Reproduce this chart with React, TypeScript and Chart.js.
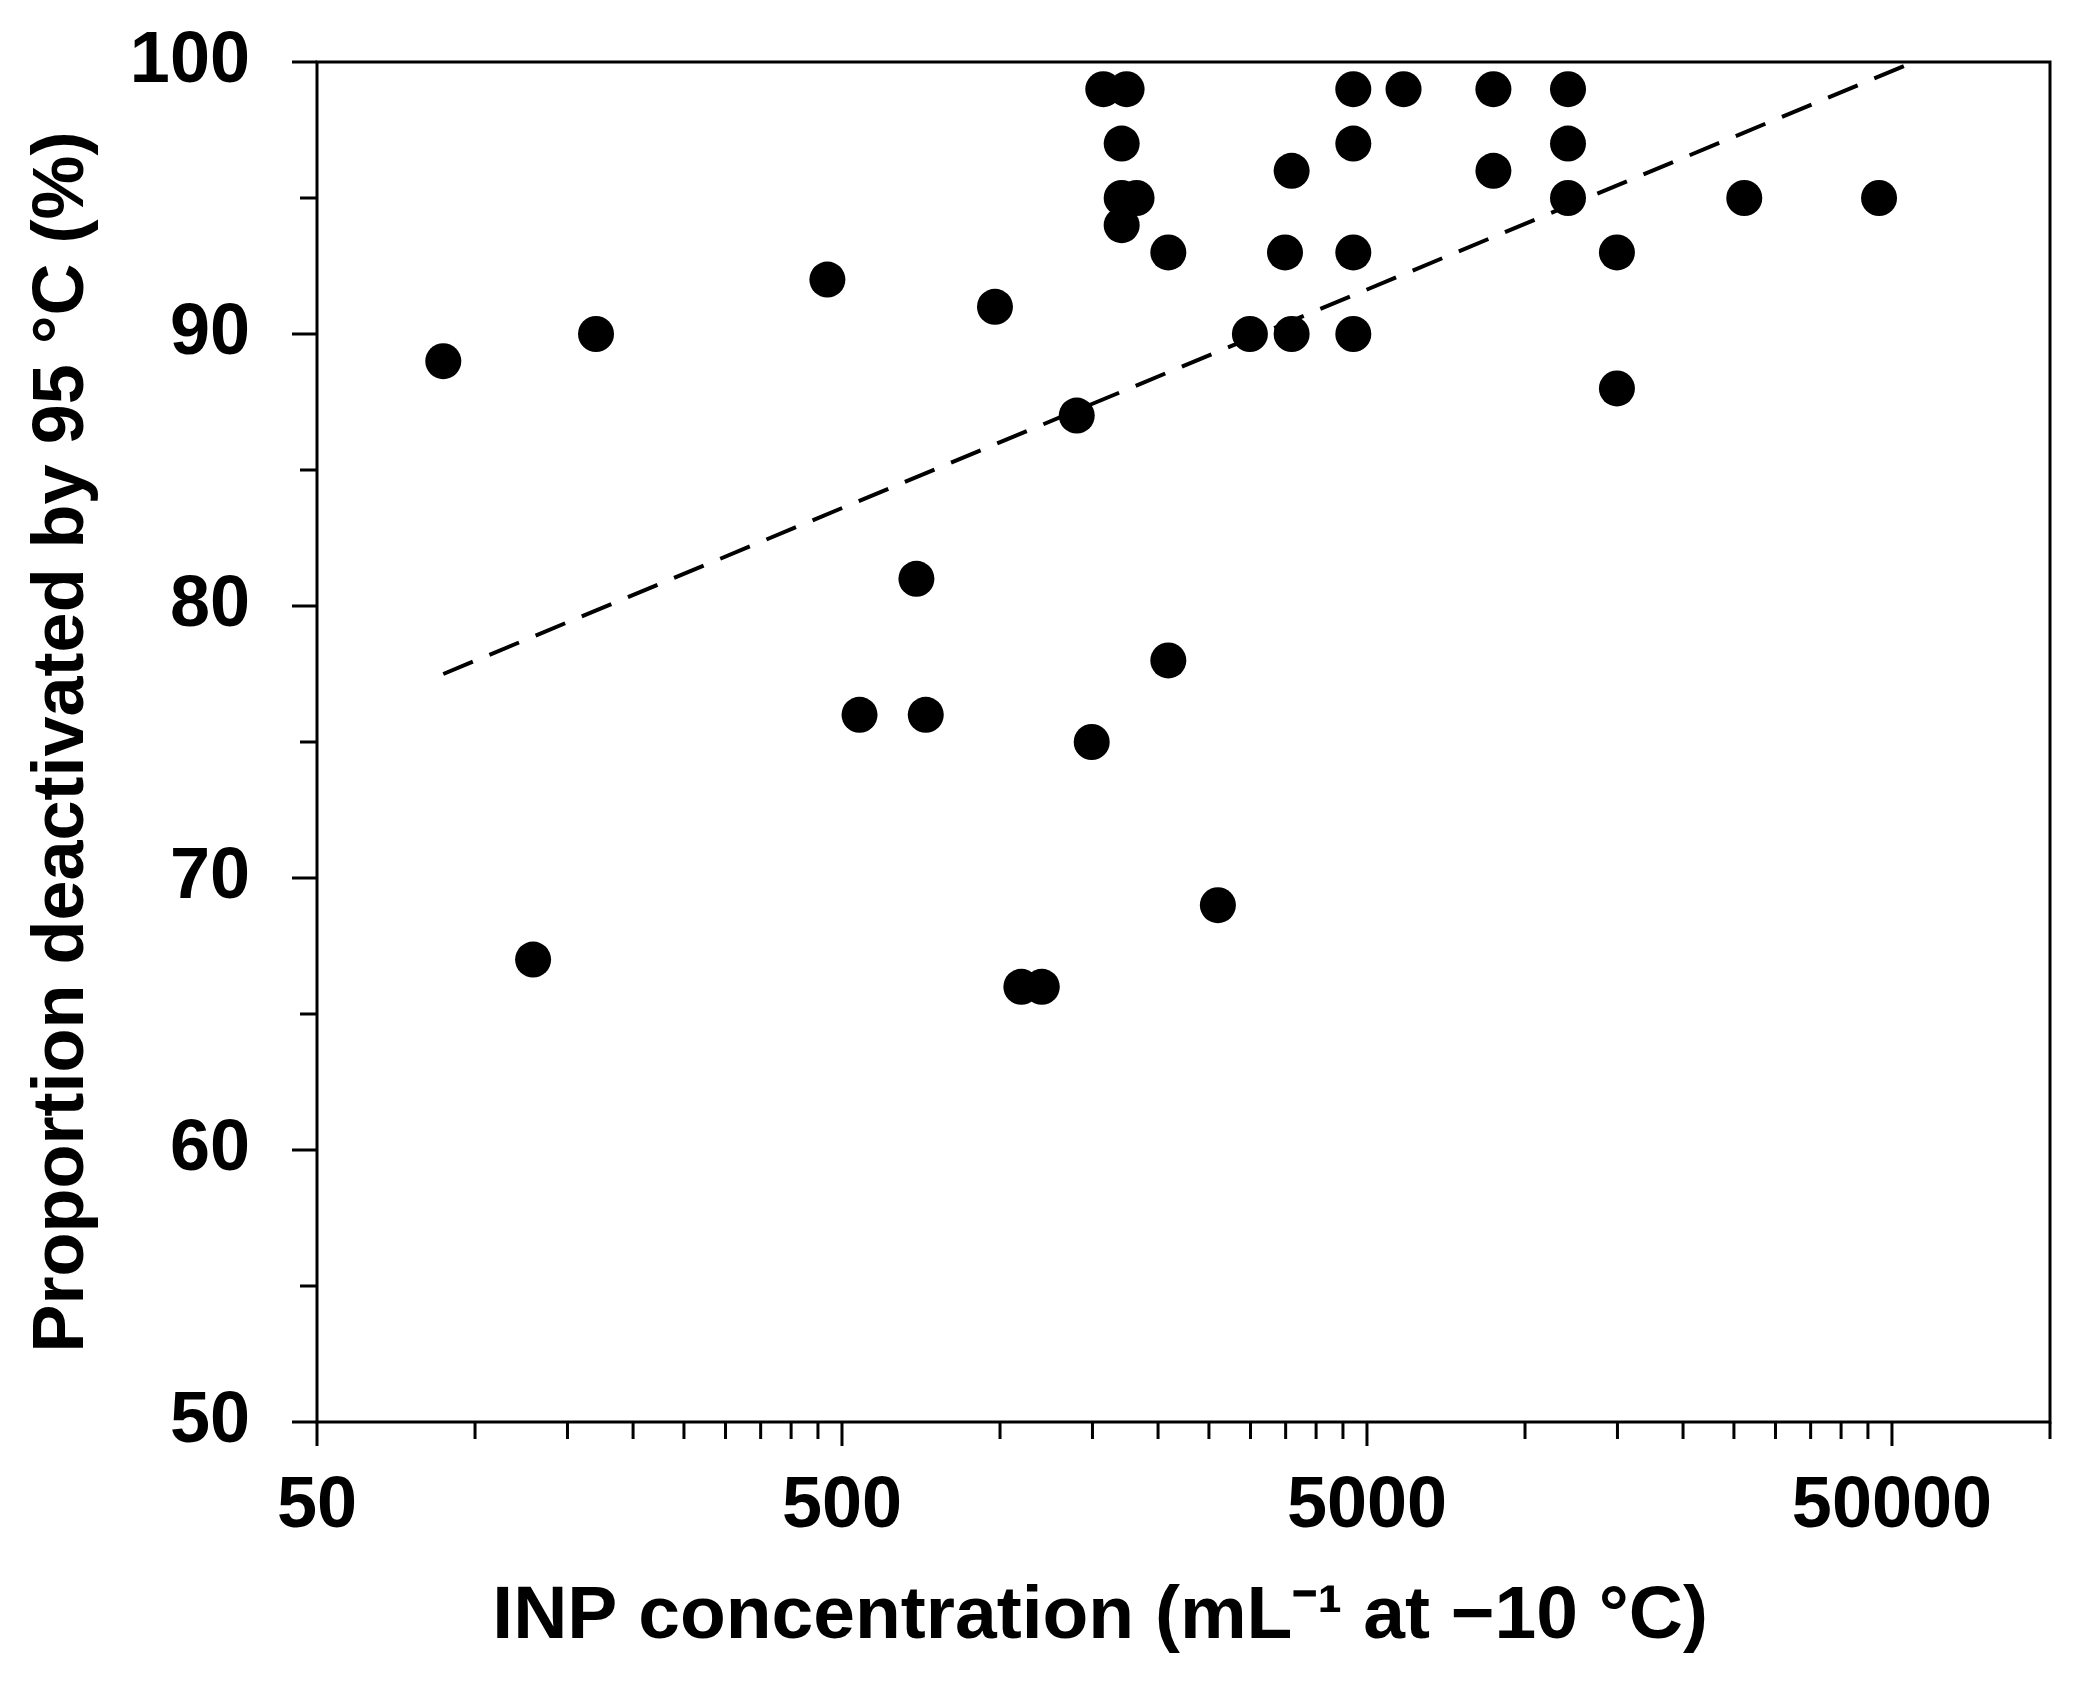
import React, { useEffect, useRef } from 'react';
import { Chart, registerables, type ChartConfiguration, type Plugin } from 'chart.js';

Chart.register(...registerables);

// INP concentration (mL^-1 at -10 °C) for each sample
const inpConcentration = [
  87, 170, 129, 469, 540, 693, 722, 978, 1098, 1201, 1400, 1495, 1573, 1742,
  1705, 1705, 1820, 1705, 2092, 2092, 2600, 2992, 3490, 3593, 3593, 4709,
  4709, 4709, 4709, 5870, 8705, 8705, 12075, 12075, 12075, 14965, 14965,
  26160, 47245,
];

// proportion deactivated by 95 °C (%) for the same samples
const proportionDeactivated = [
  89, 90, 67, 92, 76, 81, 76, 91, 66, 66, 87, 75, 99, 99,
  97, 95, 95, 94, 93, 78, 69, 90, 93, 96, 90, 99,
  97, 93, 90, 99, 99, 96, 99, 97, 95, 93, 88,
  95, 95,
];

// dashed trend line end points
const trendX = [87, 55000];
const trendY = [77.5, 100];

const xLabelledTicks = [50, 500, 5000, 50000];
const xMinorTicks = [
  100, 150, 200, 250, 300, 350, 400, 450,
  1000, 1500, 2000, 2500, 3000, 3500, 4000, 4500,
  10000, 15000, 20000, 25000, 30000, 35000, 40000, 45000,
  100000,
];
const yLabelledTicks = [50, 60, 70, 80, 90, 100];
const yMinorTicks = [55, 65, 75, 85, 95];

const FONT = '"Liberation Sans", Arial, sans-serif';
// the x title sits left of centre in the original; trailing spaces push it there
const X_TITLE = 'INP concentration (mL\u207B\u00B9 at \u221210 \u00B0C)' + '\u00A0'.repeat(8);
const Y_TITLE = 'Proportion deactivated by 95 \u00B0C (%)';

// frame round the plot plus long/short tick marks
const framePlugin: Plugin = {
  id: 'frame',
  afterDraw(chart) {
    const { ctx, chartArea: a } = chart;
    const xs = chart.scales.x;
    const ys = chart.scales.y;
    ctx.save();
    ctx.strokeStyle = '#000';
    ctx.lineWidth = 3;
    ctx.strokeRect(a.left, a.top, a.right - a.left, a.bottom - a.top);
    ctx.beginPath();
    xLabelledTicks.forEach((v) => {
      const px = xs.getPixelForValue(v);
      ctx.moveTo(px, a.bottom);
      ctx.lineTo(px, a.bottom + 24);
    });
    xMinorTicks.forEach((v) => {
      const px = xs.getPixelForValue(v);
      ctx.moveTo(px, a.bottom);
      ctx.lineTo(px, a.bottom + 17);
    });
    yLabelledTicks.forEach((v) => {
      const py = ys.getPixelForValue(v);
      ctx.moveTo(a.left, py);
      ctx.lineTo(a.left - 25, py);
    });
    yMinorTicks.forEach((v) => {
      const py = ys.getPixelForValue(v);
      ctx.moveTo(a.left, py);
      ctx.lineTo(a.left - 17, py);
    });
    ctx.stroke();
    ctx.restore();
  },
};

const ScatterChart: React.FC = () => {
  const canvasRef = useRef<HTMLCanvasElement | null>(null);
  const chartRef = useRef<Chart | null>(null);

  useEffect(() => {
    if (!canvasRef.current) return;
    document.body.style.margin = '0';

    const points = inpConcentration.map((x, i) => ({ x, y: proportionDeactivated[i] }));
    const trend = trendX.map((x, i) => ({ x, y: trendY[i] }));

    const config: ChartConfiguration<'scatter'> = {
      type: 'scatter',
      data: {
        datasets: [
          {
            label: 'samples',
            data: points,
            backgroundColor: '#000',
            borderWidth: 0,
            pointRadius: 18,
            order: 1,
          },
          {
            label: 'trend',
            data: trend,
            showLine: true,
            borderColor: '#000',
            borderWidth: 4,
            borderDash: [32, 18],
            pointRadius: 0,
            fill: false,
            order: 0,
          },
        ],
      },
      options: {
        responsive: false,
        animation: false,
        devicePixelRatio: 1,
        layout: { padding: { left: 0, top: 62, right: 35, bottom: 0 } },
        plugins: {
          legend: { display: false },
          tooltip: { enabled: false },
        },
        scales: {
          x: {
            type: 'logarithmic',
            min: 50,
            max: 100000,
            afterBuildTicks: (scale) => {
              scale.ticks = [...xLabelledTicks, ...xMinorTicks]
                .sort((p, q) => p - q)
                .map((value) => ({ value }));
            },
            afterFit: (scale) => {
              scale.height = 261;
              scale.paddingLeft = 0;
              scale.paddingRight = 0;
            },
            grid: { display: false, drawTicks: true, tickLength: 23 },
            border: { display: false },
            ticks: {
              autoSkip: false,
              maxRotation: 0,
              padding: 19,
              color: '#000',
              font: { family: FONT, size: 72, weight: 'bold' },
              callback: (value) =>
                xLabelledTicks.includes(Number(value)) ? String(value) : '',
            },
            title: {
              display: true,
              text: X_TITLE,
              color: '#000',
              font: { family: FONT, size: 75, weight: 'bold' },
              padding: { top: 0, bottom: 21 },
            },
          },
          y: {
            min: 50,
            max: 100,
            afterBuildTicks: (scale) => {
              scale.ticks = [...yLabelledTicks, ...yMinorTicks]
                .sort((p, q) => p - q)
                .map((value) => ({ value }));
            },
            afterFit: (scale) => {
              scale.width = 317;
              scale.paddingTop = 0;
              scale.paddingBottom = 0;
            },
            grid: { display: false, drawTicks: true, tickLength: 25 },
            border: { display: false },
            ticks: {
              autoSkip: false,
              padding: 42,
              color: '#000',
              font: { family: FONT, size: 72, weight: 'bold' },
              callback: (value) =>
                yLabelledTicks.includes(Number(value)) ? String(value) : '',
            },
            title: {
              display: true,
              text: Y_TITLE,
              color: '#000',
              font: { family: FONT, size: 72, weight: 'bold' },
              padding: { top: 20, bottom: 0 },
            },
          },
        },
      },
      plugins: [framePlugin],
    };

    chartRef.current = new Chart(canvasRef.current, config);

    return () => {
      if (chartRef.current) {
        chartRef.current.destroy();
        chartRef.current = null;
      }
    };
  }, []);

  return <canvas ref={canvasRef} width={2085} height={1683} />;
};

export default function App() {
  return (
    <div style={{ width: 2085, height: 1683, background: '#fff' }}>
      <ScatterChart />
    </div>
  );
}
